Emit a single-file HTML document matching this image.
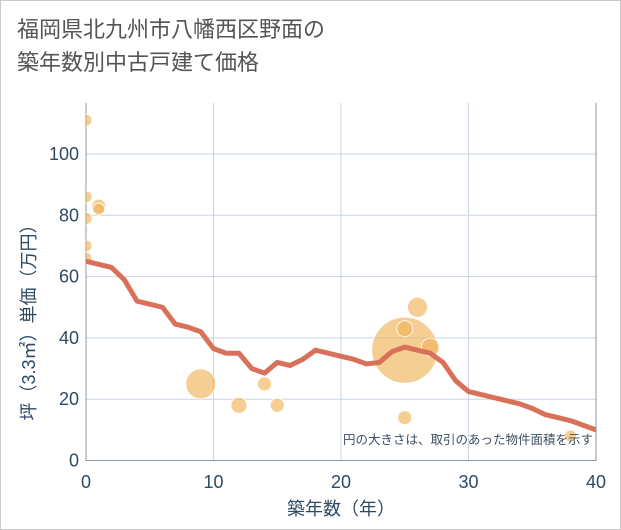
<!DOCTYPE html>
<html><head><meta charset="utf-8"><style>
body{margin:0;background:#fff;font-family:"Liberation Sans","Noto Sans CJK JP",sans-serif}
#wrap{position:relative;width:619px;height:528px;border:1px solid #ccc;background:#fff}
h1{position:absolute;left:16px;top:12px;margin:0;font-size:22px;font-weight:normal;color:#555;line-height:33px}
</style></head><body>
<div id="wrap">
<h1>福岡県北九州市八幡西区野面の<br>築年数別中古戸建て価格</h1>
<svg id="chart" width="621" height="530" style="position:absolute;left:-1px;top:-1px"><defs><clipPath id="pc"><rect x="86" y="103" width="510" height="357.5"/></clipPath></defs></svg>
</div>
<script>
const xTicks=[0,10,20,30,40];
const yTicks=[0,20,40,60,80,100];
const lineX=[0,1,2,3,4,5,6,7,8,9,10,11,12,13,14,15,16,17,18,19,20,21,22,23,24,25,26,27,28,29,30,31,32,33,34,35,36,37,38,39,40];
const lineY=[65,64,63,59,52,51,50,44.5,43.5,42,36.5,35,35,30,28.5,32,31,33,36,35,34,33,31.5,32,35.5,37,36,35,32,26,22.5,21.5,20.5,19.5,18.5,17,15,14,13,11.5,10];
const bubX=[0,0,0,0,0,1,1,9,12,14,15,25,25,26,27,25,38];
const bubY=[111,86,79,70,66,83,82,25,18,25,18,36,43,50,37,14,8];
const bubR=[6,6,6,6,6,7,6,15,8,7,7,33,8,10,9,7,6];
const NS="http://www.w3.org/2000/svg";
const svg=document.getElementById('chart');
const L=86,R=596,T=103,B=460.5;
const sx=v=>L+(v-0)/40*(R-L);
const sy=v=>B-v*3.065;
function mk(t,a,par){const e=document.createElementNS(NS,t);for(const k in a)e.setAttribute(k,a[k]);(par||svg).appendChild(e);return e;}
xTicks.forEach(v=>{const g=mk('line',{x1:sx(v),x2:sx(v),y1:T,y2:B,stroke:'#c8d4e3','stroke-width':1});

const t=mk('text',{x:sx(v),y:488,'text-anchor':'middle','font-size':18,fill:'#2e4a66'});t.textContent=v;
});
yTicks.forEach(v=>{const g=mk('line',{x1:L,x2:R,y1:sy(v),y2:sy(v),stroke:'#c8d4e3','stroke-width':1});

const t=mk('text',{x:79,y:sy(v)+6,'text-anchor':'end','font-size':18,fill:'#2e4a66'});t.textContent=v;
});
const ax=mk('path',{d:`M${L},${T}V${B}H${R}V${T}`,fill:'none',stroke:'#8a97a6','stroke-width':1});

const grp=mk('g',{'clip-path':'url(#pc)'});

bubX.forEach((x,i)=>{const c=mk('circle',{cx:sx(x),cy:sy(bubY[i]),r:bubR[i],fill:'rgba(240,180,90,0.65)',stroke:'#fff','stroke-width':0.8},grp);
});
const p=mk('polyline',{points:lineX.map((x,i)=>sx(x)+','+sy(lineY[i])).join(' '),fill:'none',stroke:'#d9705a','stroke-width':5,'stroke-linejoin':'round'},grp);

const n=mk('text',{x:593,y:444,'text-anchor':'end','font-size':12.5,fill:'#3d4f63'});n.textContent='円の大きさは、取引のあった物件面積を示す';

const xt=mk('text',{x:341,y:515,'text-anchor':'middle','font-size':18,fill:'#2e4a66'});xt.textContent='築年数（年）';

const yt=mk('text',{x:0,y:0,'text-anchor':'middle','font-size':18,fill:'#2e4a66',transform:'translate(35,318) rotate(-90)'});yt.textContent='坪（3.3㎡）単価（万円）';

</script>
</body></html>
